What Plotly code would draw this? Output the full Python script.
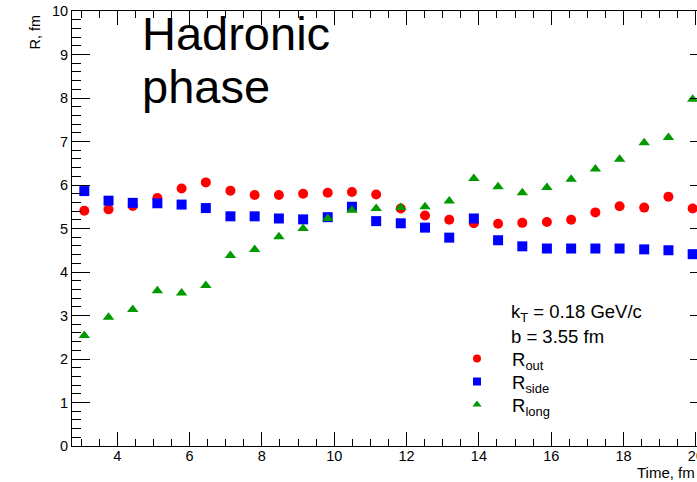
import plotly.graph_objects as go

# Femtoscopic radii versus time in the hadronic phase
time_fm = [3.09, 3.76, 4.43, 5.11, 5.78, 6.45, 7.13, 7.80, 8.47, 9.14, 9.82, 10.49, 11.16,
           11.84, 12.51, 13.18, 13.86, 14.53, 15.20, 15.88, 16.55, 17.22, 17.89, 18.57,
           19.24, 19.91]
r_out = [5.41, 5.44, 5.52, 5.70, 5.92, 6.06, 5.87, 5.77, 5.77, 5.80, 5.82, 5.84, 5.78,
         5.46, 5.30, 5.20, 5.12, 5.11, 5.13, 5.15, 5.20, 5.37, 5.51, 5.48, 5.73, 5.46]
r_side = [5.86, 5.64, 5.59, 5.58, 5.55, 5.47, 5.28, 5.28, 5.23, 5.21, 5.26, 5.50, 5.17,
          5.12, 5.02, 4.79, 5.23, 4.73, 4.59, 4.54, 4.54, 4.54, 4.54, 4.52, 4.50, 4.41]
r_long = [2.54, 2.96, 3.14, 3.57, 3.52, 3.69, 4.38, 4.52, 4.81, 5.00, 5.23, 5.42, 5.46,
          5.48, 5.50, 5.63, 6.15, 5.96, 5.82, 5.94, 6.13, 6.37, 6.59, 6.97, 7.09, 7.97]

series_names = ["R<sub>out</sub>", "R<sub>side</sub>", "R<sub>long</sub>"]
series_colors = ["#ff0000", "#0000ff", "#009900"]
series_symbols = ["circle", "square", "triangle-up"]
legend_keys = ["legend", "legend2", "legend3"]

FONT = "Liberation Sans, Arial, Helvetica, sans-serif"
W, H = 697, 482
ML, MR, MT, MB = 72, 0, 11, 36
plot_w = W - ML - MR
plot_h = H - MT - MB


def px_x(px):
    return (px - ML) / plot_w


def px_y(py):
    return 1 - (py - MT) / plot_h


fig = go.Figure()
for vals, name, col, sym, lg in zip([r_out, r_side, r_long], series_names,
                                    series_colors, series_symbols, legend_keys):
    fig.add_trace(go.Scatter(
        x=time_fm, y=vals, mode="markers", name=name, showlegend=False,
        marker=dict(color=col, symbol=sym, size=10, line=dict(width=0)),
    ))
    # legend key with a slightly smaller symbol
    fig.add_trace(go.Scatter(
        x=[None], y=[None], mode="markers", name=name, legend=lg, showlegend=True,
        marker=dict(color=col, symbol=sym, size=8, line=dict(width=0)),
    ))

# empty trace carrying the right-hand tick stubs
fig.add_trace(go.Scatter(x=[], y=[], yaxis="y2", showlegend=False, hoverinfo="skip"))

axis_font = dict(family=FONT, size=14.5, color="black")
legend_font = dict(family=FONT, size=18.5, color="black")
legend_rows = [359, 382, 405]


def legend_box(py):
    return dict(
        x=px_x(442), y=px_y(py), xanchor="left", yanchor="middle",
        font=legend_font, bgcolor="rgba(0,0,0,0)", itemwidth=60,
        borderwidth=0,
    )


fig.update_layout(
    width=W, height=H,
    margin=dict(l=ML, r=MR, t=MT, b=MB, pad=0),
    paper_bgcolor="white", plot_bgcolor="white",
    font=dict(family=FONT, color="black"),
    xaxis=dict(
        range=[2.75, 20.03], tick0=0, dtick=2,
        ticks="inside", ticklen=14, tickwidth=1, tickcolor="black",
        minor=dict(dtick=0.5, tick0=0, ticks="inside", ticklen=7, tickcolor="black"),
        showline=True, linecolor="black", linewidth=1, mirror="ticks",
        showgrid=False, zeroline=False, tickfont=axis_font, automargin=False,
        ticklabelstandoff=-3, ticklabeloverflow="allow",
    ),
    yaxis=dict(
        range=[0, 10], tick0=0, dtick=1,
        ticks="inside", ticklen=18, tickwidth=1, tickcolor="black",
        minor=dict(dtick=0.2, tick0=0, ticks="inside", ticklen=9, tickcolor="black"),
        showline=True, linecolor="black", linewidth=1, mirror=False,
        showgrid=False, zeroline=False, tickfont=axis_font, automargin=False,
    ),
    yaxis2=dict(
        range=[0, 10], tick0=0, dtick=1, overlaying="y", side="right", anchor="x",
        ticks="inside", ticklen=7, tickwidth=1, tickcolor="black",
        showticklabels=False, showline=False, showgrid=False, zeroline=False,
    ),
    legend=legend_box(legend_rows[0]),
    legend2=legend_box(legend_rows[1]),
    legend3=legend_box(legend_rows[2]),
)

annotations = [
    dict(text="Hadronic", x=px_x(140), y=px_y(5), xanchor="left", yanchor="top",
         font=dict(family=FONT, size=47, color="black")),
    dict(text="phase", x=px_x(140), y=px_y(58), xanchor="left", yanchor="top",
         font=dict(family=FONT, size=47, color="black")),
    dict(text="k<sub>T</sub> = 0.18 GeV/c", x=px_x(509), y=px_y(313), xanchor="left",
         yanchor="middle", font=dict(family=FONT, size=18.5, color="black")),
    dict(text="b = 3.55 fm", x=px_x(509), y=px_y(336), xanchor="left",
         yanchor="middle", font=dict(family=FONT, size=18.5, color="black")),
    dict(text="Time, fm", x=1, y=px_y(472), xanchor="right", yanchor="middle",
         font=dict(family=FONT, size=15, color="black")),
    dict(text="R, fm", x=px_x(35), y=px_y(13), xanchor="center", yanchor="top",
         textangle=-90, font=dict(family=FONT, size=14.5, color="black")),
]
for a in annotations:
    a.update(xref="paper", yref="paper", showarrow=False)
fig.update_layout(annotations=annotations)

fig.write_html("out.html")
